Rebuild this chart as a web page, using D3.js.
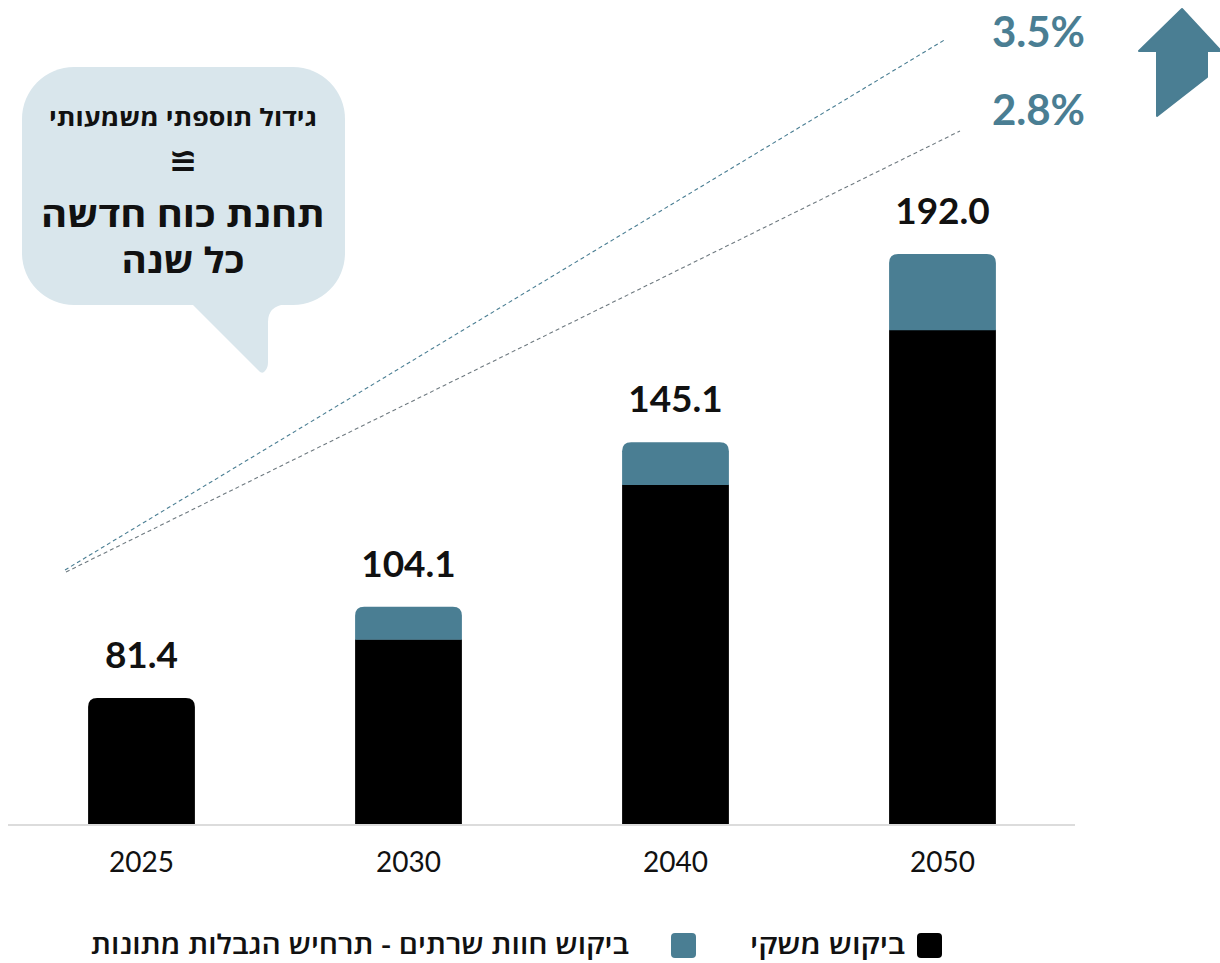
<!DOCTYPE html>
<html lang="he">
<head>
<meta charset="utf-8">
<script src="https://cdn.jsdelivr.net/npm/d3@7.9.0/dist/d3.min.js"></script>
<style>
  body { margin: 0; background: #fff; }
  svg { display: block; }
  .heb { font-family: "Open Sans", "DejaVu Sans", sans-serif; }
</style>
</head>
<body>
<svg id="chart" width="1220" height="963"></svg>
<script>
// data
const years = ["2025", "2030", "2040", "2050"];
const economyDemand = [81.4, 96.0, 134.6, 173.1];
const serverDemand = [0, 8.1, 10.5, 18.9];
const totals = ["81.4", "104.1", "145.1", "192.0"];
const seriesNames = ["ביקוש משקי", "ביקוש חוות שרתים - תרחיש הגבלות מתונות"];
const growthLabels = ["3.5%", "2.8%"];

const black = "#000000";
const teal = "#4a7e93";
const bubbleFill = "#d9e6ec";

const svg = d3.select("#chart");

const x = d3.scaleBand()
    .domain(years)
    .range([8, 1076])
    .paddingInner(0.6)
    .paddingOuter(0.3);

const y = d3.scaleLinear()
    .domain([50, 192])
    .range([824, 254]);

// rounded-top rectangle path
function topRounded(x0, y0, w, h, r) {
    r = Math.min(r, h);
    return `M${x0},${y0 + h} V${y0 + r} Q${x0},${y0} ${x0 + r},${y0} H${x0 + w - r} Q${x0 + w},${y0} ${x0 + w},${y0 + r} V${y0 + h} Z`;
}

// trend lines (annotation)
const trends = [
    { x1: 65, y1: 570, x2: 946, y2: 39, color: "#4a7e93" },
    { x1: 66, y1: 572, x2: 960, y2: 131, color: "#6f7a80" }
];
svg.selectAll(".trend")
    .data(trends)
    .join("line")
    .attr("class", "trend")
    .attr("x1", d => d.x1)
    .attr("y1", d => d.y1)
    .attr("x2", d => d.x2)
    .attr("y2", d => d.y2)
    .attr("stroke", d => d.color)
    .attr("stroke-width", 1.1)
    .attr("stroke-dasharray", "4,3");

// bars
const rows = years.map((yr, i) => ({
    year: yr,
    econ: economyDemand[i],
    server: serverDemand[i],
    label: totals[i]
}));

const bw = x.bandwidth();
const g = svg.selectAll(".bar")
    .data(rows)
    .join("g")
    .attr("class", "bar");

g.append("path")
    .attr("d", d => {
        const yTop = y(d.econ);
        const h = y(50) - yTop;
        return d.server > 0
            ? `M${x(d.year)},${yTop} h${bw} v${h} h${-bw} Z`
            : topRounded(x(d.year), yTop, bw, h, 9);
    })
    .attr("fill", black);

g.filter(d => d.server > 0)
    .append("path")
    .attr("d", d => {
        const yTop = y(d.econ + d.server);
        const h = y(d.econ) - yTop;
        return topRounded(x(d.year), yTop, bw, h + 0.5, 9);
    })
    .attr("fill", teal);

g.append("text")
    .attr("x", d => x(d.year) + bw / 2)
    .attr("y", d => y(d.econ + d.server) - 30)
    .attr("text-anchor", "middle")
    .attr("font-family", "Lato, sans-serif")
    .attr("font-weight", 700)
    .attr("font-size", 37)
    .attr("fill", "#111")
    .text(d => d.label);

// baseline
svg.append("line")
    .attr("x1", 8)
    .attr("x2", 1075)
    .attr("y1", 825)
    .attr("y2", 825)
    .attr("stroke", "#dcdcdc")
    .attr("stroke-width", 2);

// year labels
svg.selectAll(".year")
    .data(years)
    .join("text")
    .attr("class", "year")
    .attr("x", d => x(d) + bw / 2)
    .attr("y", 872)
    .attr("text-anchor", "middle")
    .attr("font-family", "Lato, sans-serif")
    .attr("font-size", 28)
    .attr("fill", "#111")
    .text(d => d);

// growth labels
svg.selectAll(".growth")
    .data(growthLabels)
    .join("text")
    .attr("class", "growth")
    .attr("x", 1085)
    .attr("y", (d, i) => i === 0 ? 47 : 125)
    .attr("text-anchor", "end")
    .attr("font-family", "Lato, sans-serif")
    .attr("font-weight", 700)
    .attr("font-size", 42)
    .attr("fill", teal)
    .text(d => d);

// up arrow
svg.append("path")
    .attr("d", "M1182,9 L1221,51 L1207,51 L1207,77 L1157,116 L1157,51 L1139,51 Z")
    .attr("fill", teal)
    .attr("stroke", teal)
    .attr("stroke-width", 2)
    .attr("stroke-linejoin", "round");

// speech bubble
svg.append("rect")
    .attr("x", 22)
    .attr("y", 67)
    .attr("width", 323)
    .attr("height", 238)
    .attr("rx", 52)
    .attr("fill", bubbleFill);

svg.append("path")
    .attr("d", "M188,300 L258,370 Q262,375 265,371 Q268,368 268,362 L268,322 Q268,306 286,304 L286,300 Z")
    .attr("fill", bubbleFill);

const bubbleText = [
    { t: "גידול תוספתי משמעותי", y: 126, size: 24, len: 268 },
    { t: "≅", y: 172, size: 34, len: null },
    { t: "תחנת כוח חדשה", y: 227, size: 35, len: 284 },
    { t: "כל שנה", y: 273, size: 35, len: 123 }
];
svg.selectAll(".btext")
    .data(bubbleText)
    .join("text")
    .attr("class", "btext heb")
    .attr("x", 183)
    .attr("y", d => d.y)
    .attr("text-anchor", "middle")
    .attr("direction", "rtl")
    .attr("font-weight", 700)
    .attr("font-size", d => d.size)
    .attr("textLength", d => d.len)
    .attr("lengthAdjust", "spacingAndGlyphs")
    .attr("fill", "#111")
    .text(d => d.t);

// legend
const legendItems = [
    { name: seriesNames[0], color: black, sx: 917, tx: 905, len: 155 },
    { name: seriesNames[1], color: teal, sx: 671, tx: 629, len: 538 }
];
const lg = svg.selectAll(".legend")
    .data(legendItems)
    .join("g")
    .attr("class", "legend");

lg.append("rect")
    .attr("x", d => d.sx)
    .attr("y", 933)
    .attr("width", 25)
    .attr("height", 25)
    .attr("rx", 4)
    .attr("fill", d => d.color);

lg.append("text")
    .attr("class", "heb")
    .attr("x", d => d.tx)
    .attr("y", 954)
    .attr("text-anchor", "start")
    .attr("direction", "rtl")
    .attr("font-weight", 600)
    .attr("font-size", 27)
    .attr("textLength", d => d.len)
    .attr("lengthAdjust", "spacingAndGlyphs")
    .attr("fill", "#111")
    .text(d => d.name);
</script>
</body>
</html>
